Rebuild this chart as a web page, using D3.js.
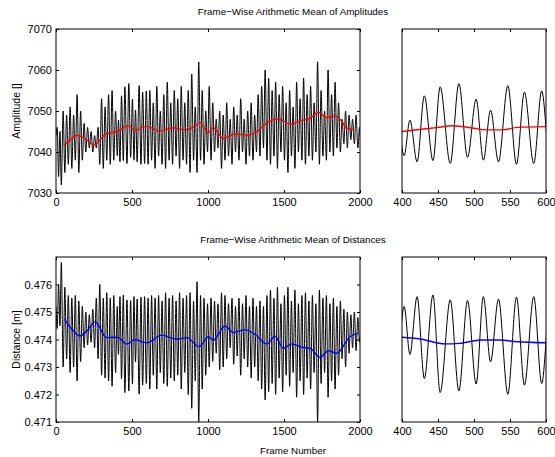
<!DOCTYPE html>
<html>
<head>
<meta charset="utf-8">
<script src="https://cdn.jsdelivr.net/npm/d3@7"></script>
<style>
  body { margin: 0; background: #fff; }
  svg { display: block; }
  text { font-family: "Liberation Sans", Arial, Helvetica, sans-serif; fill: #000; }
</style>
</head>
<body>
<svg id="chart" width="555" height="457"></svg>
<script>
// ---------------- DATA ----------------
// Frame numbers of the turning points (shared by both series)
const frames = [0, 8, 17, 26, 35, 47, 58, 70, 81, 93, 104, 116, 127, 139, 150, 162, 173, 185, 196, 208,
  219, 231, 242, 254, 265, 277, 288, 300, 311, 323, 334, 346, 357, 369, 380, 392, 403, 411, 421, 431,
  443, 453, 467, 479, 491, 503, 513, 523, 534, 547, 559, 570, 583, 594, 606, 617, 629, 640, 652, 663,
  675, 686, 698, 709, 721, 732, 744, 755, 767, 778, 790, 801, 813, 824, 836, 847, 859, 870, 882, 893,
  905, 916, 928, 939, 951, 962, 974, 985, 997, 1008, 1020, 1031, 1043, 1054, 1066, 1077, 1089, 1100, 1112, 1123,
  1135, 1146, 1158, 1169, 1181, 1192, 1204, 1215, 1227, 1238, 1250, 1261, 1273, 1284, 1296, 1307, 1319, 1330, 1342, 1353,
  1365, 1376, 1388, 1399, 1411, 1422, 1434, 1445, 1457, 1468, 1480, 1491, 1503, 1514, 1526, 1537, 1549, 1560, 1572, 1583,
  1595, 1606, 1618, 1629, 1641, 1652, 1664, 1675, 1687, 1698, 1710, 1721, 1733, 1744, 1756, 1767, 1779, 1790, 1802, 1813,
  1825, 1836, 1848, 1859, 1871, 1882, 1894, 1905, 1917, 1928, 1940, 1951, 1963, 1974, 1986, 1997, 2000];

const amplitudes = [7044, 7046, 7034, 7045, 7032, 7050, 7035, 7049, 7037, 7051, 7036, 7049, 7038, 7054, 7035, 7050, 7038, 7047, 7040, 7046,
  7041, 7045, 7040, 7044, 7041, 7046, 7037, 7053, 7036, 7051, 7038, 7054, 7037, 7055, 7038, 7050, 7039.1, 7047.8, 7037.6, 7053.7,
  7037.9, 7055.9, 7037.2, 7056.7, 7038.7, 7052.9, 7038.0, 7050.2, 7037.6, 7056.2, 7037.0, 7054.6, 7037.2, 7054.9, 7037, 7055, 7038, 7052, 7036, 7056,
  7039, 7050, 7037, 7054, 7036, 7057, 7038, 7052, 7037, 7055, 7039, 7053, 7036, 7056, 7038, 7052, 7037, 7055, 7035, 7059,
  7038, 7051, 7035, 7062, 7038, 7055, 7037, 7050, 7040, 7056, 7038, 7052, 7040, 7048, 7041, 7050, 7036, 7049, 7038, 7052,
  7039, 7048, 7037, 7051, 7040, 7049, 7038, 7053, 7040, 7048, 7037, 7050, 7039, 7052, 7038, 7049, 7040, 7054, 7039, 7056,
  7041, 7060, 7038, 7058, 7037, 7055, 7039, 7057, 7036, 7054, 7040, 7056, 7038, 7052, 7035, 7055, 7039, 7051, 7036, 7057,
  7040, 7053, 7038, 7058, 7037, 7054, 7039, 7056, 7038, 7052, 7040, 7062, 7037, 7055, 7039, 7050, 7038, 7060, 7040, 7054,
  7039, 7057, 7041, 7052, 7040, 7048, 7042, 7050, 7041, 7049, 7043, 7048, 7042, 7049, 7041, 7046, 7044];

const distances = [0.4752, 0.4744, 0.4760, 0.4745, 0.4768, 0.4730, 0.4759, 0.4733, 0.4756, 0.4728, 0.4755, 0.4730, 0.4756, 0.4725, 0.4754, 0.4732, 0.4752, 0.4737, 0.4750, 0.4738,
  0.4749, 0.4739, 0.4751, 0.4737, 0.4755, 0.4733, 0.4760, 0.4727, 0.4755, 0.4726, 0.4757, 0.4725, 0.4755, 0.4723, 0.4756, 0.4728, 0.47520, 0.47346, 0.47556, 0.47258,
  0.47562, 0.47207, 0.47544, 0.47213, 0.47542, 0.47238, 0.47556, 0.47319, 0.47547, 0.47201, 0.47554, 0.47234, 0.47556, 0.47240, 0.4755, 0.4722, 0.4756, 0.4727, 0.4755, 0.4722,
  0.4756, 0.4728, 0.4754, 0.4724, 0.4757, 0.4723, 0.4755, 0.4726, 0.4756, 0.4725, 0.4754, 0.4727, 0.4757, 0.4722, 0.4755, 0.4728, 0.4756, 0.4720, 0.4757, 0.4715,
  0.4754, 0.4725, 0.4761, 0.4710, 0.4756, 0.4722, 0.4755, 0.4727, 0.4753, 0.4730, 0.4755, 0.4732, 0.4754, 0.4735, 0.4753, 0.4729, 0.4757, 0.4730, 0.4756, 0.4733,
  0.4753, 0.4737, 0.4755, 0.4731, 0.4752, 0.4734, 0.4755, 0.4727, 0.4753, 0.4733, 0.4756, 0.4730, 0.4752, 0.4726, 0.4755, 0.4730, 0.4752, 0.4725, 0.4754, 0.4722,
  0.4752, 0.4718, 0.4756, 0.4721, 0.4758, 0.4724, 0.4755, 0.4720, 0.4759, 0.4726, 0.4753, 0.4721, 0.4756, 0.4727, 0.4759, 0.4723, 0.4754, 0.4728, 0.4758, 0.4719,
  0.4753, 0.4725, 0.4756, 0.4720, 0.4757, 0.4726, 0.4754, 0.4722, 0.4756, 0.4728, 0.4753, 0.4710, 0.4758, 0.4724, 0.4755, 0.4728, 0.4756, 0.4719, 0.4753, 0.4725,
  0.4755, 0.4722, 0.4752, 0.4727, 0.4754, 0.4733, 0.4751, 0.4730, 0.4750, 0.4735, 0.4749, 0.4737, 0.4750, 0.4736, 0.4748, 0.4739, 0.4741];

// Frame-wise arithmetic mean (red, amplitudes)
const ampMeanFrames = [53, 100, 136, 190, 252, 290, 329, 400, 430, 450, 470, 500, 515, 540, 560, 600, 684, 770, 849, 900,
  947, 1002, 1035, 1100, 1178, 1255, 1331, 1385, 1463, 1539, 1605, 1671, 1726, 1781, 1836, 1880, 1912, 1956];
const ampMean = [7041.7, 7043.2, 7044.1, 7043.3, 7041.7, 7043.0, 7044.4, 7045.0, 7045.6, 7046.0, 7046.4, 7045.8, 7045.4, 7045.4, 7046.0, 7046.2, 7045.1, 7045.9, 7045.4, 7046.0,
  7047.1, 7044.8, 7045.9, 7043.3, 7044.4, 7044.1, 7045.2, 7047.1, 7048.1, 7046.8, 7047.6, 7048.2, 7049.7, 7048.4, 7048.8, 7047.5, 7045.8, 7045.5];

// Frame-wise arithmetic mean (blue, distances)
const distMeanFrames = [55, 100, 158, 210, 257, 333, 400, 425, 460, 480, 510, 535, 560, 600, 695, 794, 860, 943, 1003, 1035,
  1112, 1167, 1243, 1309, 1386, 1441, 1495, 1551, 1616, 1671, 1737, 1792, 1847, 1934, 1989];
const distMean = [0.47474, 0.47440, 0.47413, 0.47435, 0.47465, 0.47407, 0.47408, 0.47402, 0.47384, 0.47386, 0.47398, 0.47398, 0.47392, 0.47388, 0.47416, 0.47401, 0.47407, 0.47374, 0.47410, 0.47398,
  0.47449, 0.47426, 0.47435, 0.47419, 0.47384, 0.47412, 0.47368, 0.47384, 0.47372, 0.47368, 0.47335, 0.47359, 0.47350, 0.47410, 0.47423];

const xTicksFull = [0, 500, 1000, 1500, 2000];
const xTicksZoom = [400, 450, 500, 550, 600];
const ampTicks = [7030, 7040, 7050, 7060, 7070];
const distTicks = [0.471, 0.472, 0.473, 0.474, 0.475, 0.476];

const titleTop = "Frame\u2212Wise Arithmetic Mean of Amplitudes";
const titleBottom = "Frame\u2212Wise Arithmetic Mean of Distances";
const xLabel = "Frame Number";
const yLabelTop = "Amplitude []";
const yLabelBottom = "Distance [m]";

// ---------------- DRAWING ----------------
const svg = d3.select("#chart");

const ampSeries = frames.map((f, i) => ({ x: f, y: amplitudes[i] }));
const distSeries = frames.map((f, i) => ({ x: f, y: distances[i] }));
const ampMeanSeries = ampMeanFrames.map((f, i) => ({ x: f, y: ampMean[i] }));
const distMeanSeries = distMeanFrames.map((f, i) => ({ x: f, y: distMean[i] }));

let clipId = 0;
function panel(opts) {
  const { x0, x1, y0, y1, xDomain, yDomain, xTicks, yTicks, yFmt, series, mean, meanColor, showY } = opts;
  const x = d3.scaleLinear().domain(xDomain).range([x0, x1]);
  const y = d3.scaleLinear().domain(yDomain).range([y1, y0]);
  const g = svg.append("g");
  const id = "clip" + (clipId++);
  g.append("clipPath").attr("id", id).append("rect")
    .attr("x", x0).attr("y", y0).attr("width", x1 - x0).attr("height", y1 - y0);

  const line = d3.line().x(d => x(d.x)).y(d => y(d.y)).curve(d3.curveMonotoneX);
  const data = series.filter(d => d.x >= xDomain[0] - 30 && d.x <= xDomain[1] + 30);
  const md = mean.filter(d => d.x >= xDomain[0] - 60 && d.x <= xDomain[1] + 60);

  const plot = g.append("g").attr("clip-path", `url(#${id})`);
  plot.append("path").datum(data).attr("d", line)
    .attr("fill", "none").attr("stroke", "#000").attr("stroke-width", 1).attr("stroke-linejoin", "round");
  plot.append("path").datum(md).attr("d", line)
    .attr("fill", "none").attr("stroke", meanColor).attr("stroke-width", 1.4).attr("stroke-linejoin", "round");

  // axes with inward ticks (MATLAB style)
  const axB = d3.axisBottom(x).tickValues(xTicks).tickSizeInner(-3).tickSizeOuter(0).tickPadding(5).tickFormat(d3.format("d"));
  const axT = d3.axisTop(x).tickValues(xTicks).tickSizeInner(-3).tickSizeOuter(0).tickFormat("");
  const gB = g.append("g").attr("transform", `translate(0,${y1})`).call(axB);
  const gT = g.append("g").attr("transform", `translate(0,${y0})`).call(axT);
  [gB, gT].forEach(a => { a.select(".domain").remove(); });
  gB.selectAll("text").attr("font-size", 11).attr("fill", "#000").attr("font-family", "Liberation Sans, Arial, sans-serif");
  if (showY) {
    const axL = d3.axisLeft(y).tickValues(yTicks).tickSizeInner(-3).tickSizeOuter(0).tickPadding(4).tickFormat(yFmt);
    const axR = d3.axisRight(y).tickValues(yTicks).tickSizeInner(-3).tickSizeOuter(0).tickFormat("");
    const gL = g.append("g").attr("transform", `translate(${x0},0)`).call(axL);
    const gR = g.append("g").attr("transform", `translate(${x1},0)`).call(axR);
    [gL, gR].forEach(a => { a.select(".domain").remove(); });
    gL.selectAll("text").attr("font-size", 11).attr("fill", "#000").attr("font-family", "Liberation Sans, Arial, sans-serif");
  }
  g.selectAll(".tick line").attr("stroke", "#000");
  g.append("rect").attr("x", x0).attr("y", y0).attr("width", x1 - x0).attr("height", y1 - y0)
    .attr("fill", "none").attr("stroke", "#000").attr("stroke-width", 1);
}

const top0 = 29, top1 = 193, bot0 = 257, bot1 = 422;
const L0 = 56, L1 = 360, R0 = 402, R1 = 546;

panel({ x0: L0, x1: L1, y0: top0, y1: top1, xDomain: [0, 2000], yDomain: [7030, 7070], xTicks: xTicksFull, yTicks: ampTicks,
  yFmt: d3.format("d"), series: ampSeries, mean: ampMeanSeries, meanColor: "#ff0000", showY: true });
panel({ x0: R0, x1: R1, y0: top0, y1: top1, xDomain: [400, 600], yDomain: [7030, 7070], xTicks: xTicksZoom, yTicks: ampTicks,
  yFmt: d3.format("d"), series: ampSeries, mean: ampMeanSeries, meanColor: "#ff0000", showY: false });
panel({ x0: L0, x1: L1, y0: bot0, y1: bot1, xDomain: [0, 2000], yDomain: [0.471, 0.477], xTicks: xTicksFull, yTicks: distTicks,
  yFmt: d3.format(".3f"), series: distSeries, mean: distMeanSeries, meanColor: "#0000ff", showY: true });
panel({ x0: R0, x1: R1, y0: bot0, y1: bot1, xDomain: [400, 600], yDomain: [0.471, 0.477], xTicks: xTicksZoom, yTicks: distTicks,
  yFmt: d3.format(".3f"), series: distSeries, mean: distMeanSeries, meanColor: "#0000ff", showY: false });

// titles and labels
svg.append("text").attr("x", 293).attr("y", 14.5).attr("text-anchor", "middle").attr("font-size", 9.8).text(titleTop);
svg.append("text").attr("x", 293).attr("y", 242.5).attr("text-anchor", "middle").attr("font-size", 9.8).text(titleBottom);
svg.append("text").attr("x", 293).attr("y", 453.5).attr("text-anchor", "middle").attr("font-size", 9.8).text(xLabel);
svg.append("text").attr("transform", `translate(19.5,${(top0 + top1) / 2}) rotate(-90)`).attr("text-anchor", "middle")
  .attr("font-size", 10.5).text(yLabelTop);
svg.append("text").attr("transform", `translate(19.5,${(bot0 + bot1) / 2}) rotate(-90)`).attr("text-anchor", "middle")
  .attr("font-size", 10.5).text(yLabelBottom);
</script>
</body>
</html>
